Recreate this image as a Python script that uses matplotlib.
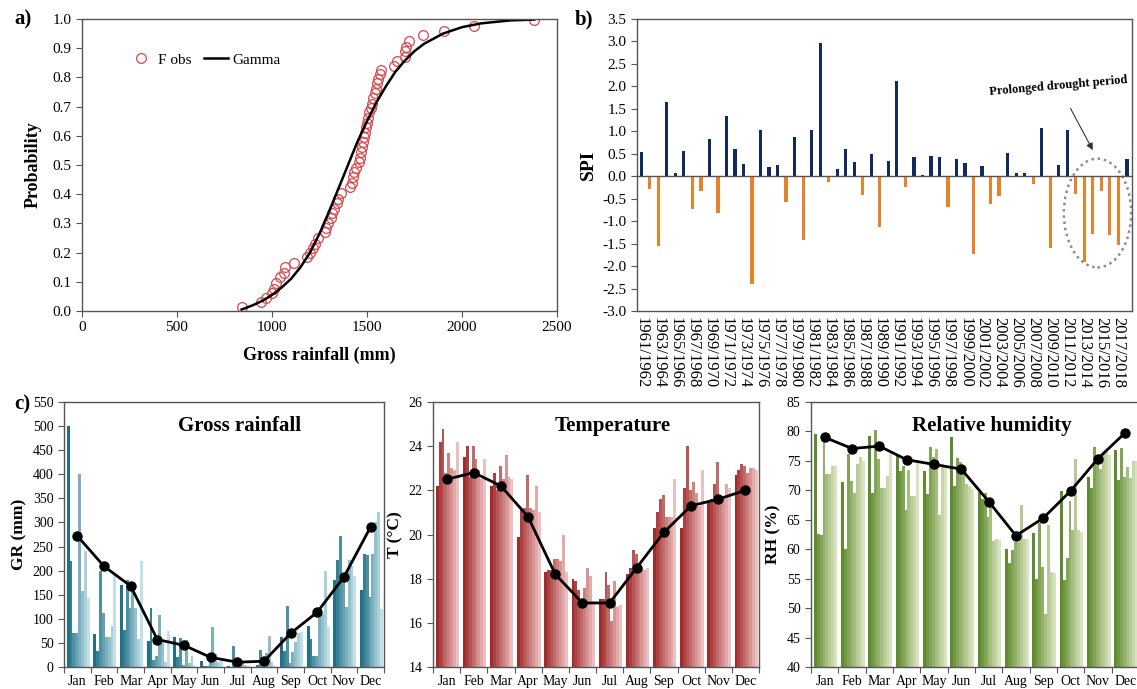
import numpy as np
import matplotlib

matplotlib.use("Agg")
import matplotlib.pyplot as plt
from matplotlib.patches import Ellipse
from matplotlib.colors import LinearSegmentedColormap

plt.rcParams["font.family"] = ["Liberation Serif", "DejaVu Sans"]

# ---- a) cumulative probability of annual gross rainfall
obs_rain = [840, 940, 970, 1000, 1010, 1020, 1040, 1065, 1070, 1115, 1185, 1200, 1215,
            1225, 1240, 1280, 1285, 1295, 1310, 1315, 1325, 1340, 1345, 1365, 1410, 1420,
            1425, 1430, 1440, 1460, 1465, 1470, 1475, 1480, 1485, 1490, 1495, 1500, 1505,
            1510, 1520, 1525, 1530, 1540, 1545, 1555, 1560, 1570, 1575, 1640, 1660, 1700,
            1700, 1705, 1720, 1795, 1905, 2065, 2380]
obs_prob = [0.012, 0.03, 0.045, 0.06, 0.075, 0.095, 0.115, 0.13, 0.15, 0.165, 0.185, 0.2,
            0.215, 0.23, 0.25, 0.27, 0.285, 0.3, 0.32, 0.335, 0.35, 0.37, 0.385, 0.405,
            0.425, 0.44, 0.46, 0.475, 0.49, 0.51, 0.525, 0.545, 0.56, 0.58, 0.595, 0.61,
            0.63, 0.645, 0.66, 0.68, 0.695, 0.71, 0.73, 0.745, 0.76, 0.78, 0.795, 0.81,
            0.825, 0.84, 0.855, 0.87, 0.89, 0.905, 0.925, 0.945, 0.96, 0.975, 0.995]
gamma_rain = [840, 900, 950, 1000, 1050, 1100, 1150, 1200, 1250, 1300, 1350, 1400, 1450,
              1500, 1550, 1600, 1650, 1700, 1750, 1800, 1900, 2000, 2100, 2250, 2380]
gamma_prob = [0.005, 0.02, 0.035, 0.055, 0.08, 0.11, 0.15, 0.2, 0.265, 0.34, 0.42, 0.5,
              0.58, 0.65, 0.715, 0.77, 0.82, 0.858, 0.89, 0.915, 0.95, 0.972, 0.985,
              0.995, 0.998]

# ---- b) SPI per hydrological year
spi_start_years = list(range(1961, 2019))
spi_values = [0.53, -0.28, -1.55, 1.65, 0.07, 0.56, -0.72, -0.32, 0.82, -0.82, 1.33, 0.60,
              0.27, -2.40, 1.02, 0.20, 0.26, -0.57, 0.88, -1.42, 1.04, 2.96, -0.12, 0.15,
              0.60, 0.31, -0.42, 0.50, -1.12, 0.34, 2.12, -0.23, 0.43, 0.03, 0.45, 0.43,
              -0.68, 0.39, 0.29, -1.73, 0.23, -0.61, -0.44, 0.51, 0.08, 0.08, -0.18, 1.08,
              -1.59, 0.24, 1.02, -0.39, -1.90, -1.29, -0.33, -1.31, -1.52, 0.38]

# ---- c) monthly climate
months = ["Jan", "Feb", "Mar", "Apr", "May", "Jun", "Jul", "Aug", "Sep", "Oct", "Nov", "Dec"]

gr_years = [
    [500, 220, 70, 70, 400, 157, 240, 143],
    [68, 33, 200, 113, 63, 63, 85, 190],
    [170, 77, 180, 122, 165, 122, 58, 220],
    [55, 122, 15, 22, 107, 50, 10, 75],
    [62, 20, 60, 5, 57, 8, 22, 3],
    [13, 2, 3, 30, 83, 28, 10, 15],
    [2, 0, 44, 8, 0, 10, 5, 3],
    [0, 5, 35, 20, 30, 65, 10, 3],
    [63, 33, 127, 8, 32, 52, 70, 72],
    [85, 58, 22, 22, 120, 110, 200, 82],
    [180, 222, 272, 185, 125, 222, 210, 188],
    [160, 235, 232, 145, 235, 300, 322, 120],
]
gr_mean = [272, 209, 168, 57, 45, 20, 10, 12, 70, 114, 187, 291]

t_years = [
    [22.2, 24.2, 24.8, 22.8, 23.7, 23.0, 22.9, 24.2],
    [23.5, 24.0, 22.6, 24.0, 23.4, 22.9, 22.5, 23.4],
    [22.2, 22.8, 22.0, 23.1, 22.5, 23.6, 22.6, 22.5],
    [19.9, 21.1, 21.2, 22.7, 21.2, 21.1, 22.2, 21.0],
    [18.3, 18.4, 18.4, 18.9, 18.9, 18.8, 20.0, 18.3],
    [18.0, 17.9, 17.5, 16.9, 17.6, 18.5, 18.1, 17.0],
    [17.1, 17.1, 18.3, 17.7, 16.1, 17.9, 16.7, 16.8],
    [18.2, 18.5, 19.3, 19.1, 18.4, 18.5, 18.4, 18.5],
    [20.3, 21.0, 21.6, 21.8, 20.8, 20.8, 20.8, 22.5],
    [20.3, 22.1, 24.0, 22.0, 22.4, 21.9, 21.3, 22.9],
    [21.5, 21.6, 22.3, 23.3, 21.6, 21.6, 22.3, 22.1],
    [22.7, 22.9, 23.2, 23.1, 22.8, 23.0, 23.0, 22.9],
]
t_mean = [22.5, 22.8, 22.2, 20.8, 18.2, 16.9, 16.9, 18.5, 20.1, 21.3, 21.6, 22.0]

rh_years = [
    [79.5, 62.6, 62.5, 79.0, 72.8, 72.8, 74.1, 74.1],
    [71.4, 60.1, 76.2, 71.6, 69.6, 74.5, 75.7, 75.0],
    [79.2, 69.5, 80.3, 75.3, 70.4, 70.4, 72.5, 76.3],
    [75.8, 73.2, 74.1, 66.6, 73.4, 69.0, 69.0, 74.6],
    [73.2, 69.3, 77.4, 75.6, 77.1, 65.8, 74.5, 74.3],
    [79.0, 70.7, 75.5, 74.8, 74.2, 71.0, 70.7, 70.3],
    [69.8, 68.5, 69.6, 65.5, 67.5, 61.4, 61.8, 61.5],
    [60.1, 57.6, 59.8, 61.3, 61.3, 67.5, 61.8, 61.8],
    [62.7, 55.0, 64.5, 57.0, 49.0, 64.1, 56.2, 56.0],
    [69.9, 54.8, 58.5, 68.2, 63.3, 75.3, 63.2, 63.0],
    [72.3, 70.4, 77.4, 75.0, 73.6, 76.4, 76.5, 76.0],
    [76.9, 71.8, 77.2, 72.3, 74.0, 72.1, 75.0, 75.0],
]
rh_mean = [79.0, 77.1, 77.5, 75.2, 74.4, 73.6, 68.1, 62.3, 65.3, 69.9, 75.4, 79.8]

W, H = 1137, 689
fig = plt.figure(figsize=(W / 100, H / 100), dpi=100)


def px_axes(x0, y0, x1, y1):
    return fig.add_axes([x0 / W, 1 - y1 / H, (x1 - x0) / W, (y1 - y0) / H])


spine_col = "#555555"


def style_spines(ax):
    for s in ax.spines.values():
        s.set_color(spine_col)
        s.set_linewidth(1.0)


# ---------------- a)
ax_a = px_axes(82, 19, 557, 311)
ax_a.plot(obs_rain, obs_prob, "o", mfc="none", mec="#d8474b", mew=0.9, ms=7, label="F obs")
ax_a.plot(gamma_rain, gamma_prob, "-", color="black", lw=1.8, label="Gamma")
ax_a.set_xlim(0, 2500)
ax_a.set_ylim(0, 1.0)
ax_a.set_xticks(np.arange(0, 2501, 500))
ax_a.set_yticks(np.arange(0, 1.01, 0.1))
ax_a.yaxis.set_major_formatter(matplotlib.ticker.FormatStrFormatter("%.1f"))
ax_a.tick_params(labelsize=11, color=spine_col, length=4)
ax_a.set_xlabel("Gross rainfall (mm)", fontsize=13, fontweight="bold", labelpad=9)
ax_a.set_ylabel("Probability", fontsize=13, fontweight="bold", labelpad=8)
ax_a.legend(loc="center left", bbox_to_anchor=(0.07, 0.86), ncol=2, frameon=False,
            fontsize=11, handlelength=1.6, columnspacing=0.8, handletextpad=0.3)
style_spines(ax_a)

# ---------------- b)
ax_b = px_axes(637, 19, 1132, 311)
xs = np.arange(len(spi_values))
cols = ["#132a5e" if v >= 0 else "#e8822a" for v in spi_values]
ax_b.bar(xs, spi_values, width=0.38, color=cols)
ax_b.axhline(0, color=spine_col, lw=1.0)
ax_b.set_xlim(-0.5, 57.6)
ax_b.set_ylim(-3.0, 3.5)
ax_b.set_yticks(np.arange(-3.0, 3.51, 0.5))
ax_b.yaxis.set_major_formatter(matplotlib.ticker.FormatStrFormatter("%.1f"))
ax_b.set_xticks(xs[::2])
ax_b.set_xticklabels([f"{y}/{y + 1}" for y in spi_start_years[::2]], rotation=270,
                     fontsize=12)
ax_b.tick_params(axis="x", length=0, pad=4)
ax_b.tick_params(axis="y", labelsize=11, color=spine_col, length=4)
ax_b.set_ylabel("SPI", fontsize=14, fontweight="bold", labelpad=4)
style_spines(ax_b)
ax_b.add_patch(Ellipse((53.55, -0.82), 7.9, 2.42, fill=False, ls=(0, (1, 1.5)),
                       lw=1.8, ec="#8c8c8c"))
ax_b.annotate("Prolonged drought period", xy=(53.0, 0.58), xytext=(49.0, 2.0),
              fontsize=9, fontweight="bold", rotation=5, ha="center", va="center",
              arrowprops=dict(arrowstyle="-|>", color="#333333", lw=0.8,
                              shrinkA=6, shrinkB=0, mutation_scale=10))


# ---------------- c)
def month_panel(x0, x1, data, mean, c_dark, c_light, ylim, yticks, ylabel, title):
    ax = px_axes(x0, 402, x1, 667)
    cmap = LinearSegmentedColormap.from_list("m", [c_dark, c_light])
    n = len(data[0])
    bw = 0.86 / n
    for i, vals in enumerate(data):
        for j, v in enumerate(vals):
            ax.bar(i + 0.1 + (j + 0.5) * bw, v - ylim[0], bottom=ylim[0], width=bw,
                   color=cmap(j / (n - 1)), linewidth=0)
    ax.plot(np.arange(12) + 0.5, mean, "-o", color="black", lw=2.0, ms=6.5)
    ax.set_xlim(0, 12)
    ax.set_ylim(*ylim)
    ax.set_yticks(yticks)
    ax.set_xticks(np.arange(13))
    ax.set_xticklabels([])
    ax.set_xticks(np.arange(12) + 0.5, minor=True)
    ax.set_xticklabels(months, minor=True, fontsize=10)
    ax.tick_params(axis="x", which="major", length=4, color=spine_col)
    ax.tick_params(axis="x", which="minor", length=0, pad=6)
    ax.tick_params(axis="y", labelsize=10, length=4, color=spine_col)
    ax.set_ylabel(ylabel, fontsize=12.5, fontweight="bold", labelpad=4)
    ax.text(0.55, 0.91, title, transform=ax.transAxes, ha="center", va="center",
            fontsize=15, fontweight="bold")
    style_spines(ax)
    return ax


month_panel(64, 384, gr_years, gr_mean, "#1f7088", "#c2e0e8", (0, 550),
            np.arange(0, 551, 50), "GR (mm)", "Gross rainfall")
month_panel(433, 759, t_years, t_mean, "#a12a2a", "#ecc0c0", (14, 26),
            np.arange(14, 27, 2), "T (°C)", "Temperature")
month_panel(811, 1139, rh_years, rh_mean, "#5f8a2e", "#d8e4bd", (40, 85),
            np.arange(40, 86, 5), "RH (%)", "Relative humidity")

fig.text(14 / W, 1 - 19 / H, "a)", fontsize=15, fontweight="bold", va="center")
fig.text(575 / W, 1 - 19 / H, "b)", fontsize=15, fontweight="bold", va="center")
fig.text(14 / W, 1 - 404 / H, "c)", fontsize=15, fontweight="bold", va="center")

fig.savefig("out.png", dpi=100)
